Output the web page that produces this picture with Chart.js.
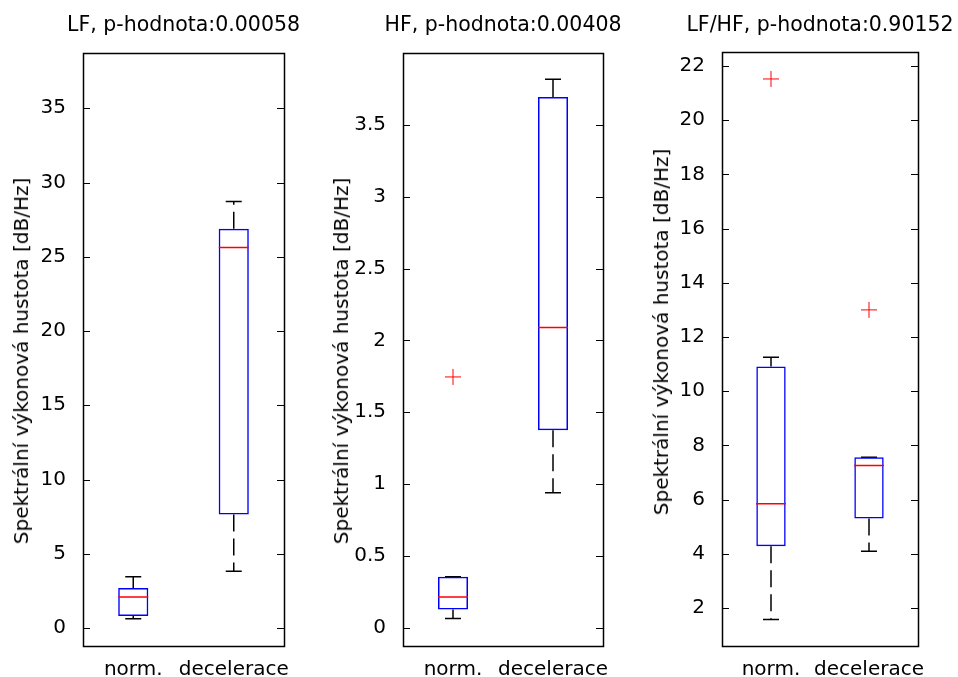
<!DOCTYPE html>
<html>
<head>
<meta charset="utf-8">
<script src="https://cdn.jsdelivr.net/npm/chart.js@4.4.1/dist/chart.umd.min.js"></script>
<style>
  html, body { margin: 0; padding: 0; background: #fff; }
  #wrap { position: relative; width: 958px; height: 677px; overflow: hidden; }
  #wrap canvas { position: absolute; top: 0; }
  .ylab {
    position: absolute;
    font: 20px "DejaVu Sans";
    line-height: 20px;
    white-space: nowrap;
    color: #000;
    transform: translate(-50%, -50%) rotate(-90deg);
  }
</style>
</head>
<body>
<div id="wrap"></div>
<script>
const categories = ['norm.', 'decelerace'];
const titles = ['LF, p-hodnota:0.00058', 'HF, p-hodnota:0.00408', 'LF/HF, p-hodnota:0.90152'];
const yAxisLabel = 'Spektrální výkonová hustota [dB/Hz]';

// LF
const lfLow = [0.63, 3.82];
const lfQ1 = [0.81, 7.65];
const lfMedian = [2.09, 25.62];
const lfQ3 = [2.69, 26.88];
const lfHigh = [3.46, 28.72];
const lfOutliers = [[], []];
const lfTicks = [0, 5, 10, 15, 20, 25, 30, 35];
const lfRange = [-1.21, 38.75];

// HF
const hfLow = [0.064, 0.939];
const hfQ1 = [0.127, 1.375];
const hfMedian = [0.214, 2.09];
const hfQ3 = [0.354, 3.696];
const hfHigh = [0.354, 3.82];
const hfOutliers = [[1.746], []];
const hfTicks = [0, 0.5, 1, 1.5, 2, 2.5, 3, 3.5];
const hfRange = [-0.128, 4.005];

// LF/HF
const ratioLow = [1.58, 4.10];
const ratioQ1 = [4.28, 5.30];
const ratioMedian = [5.85, 7.26];
const ratioQ3 = [10.91, 7.56];
const ratioHigh = [11.25, 7.56];
const ratioOutliers = [[21.52], [13.0]];
const ratioTicks = [2, 4, 6, 8, 10, 12, 14, 16, 18, 20, 22];
const ratioRange = [0.6, 22.53];

// where each panel sits; canvas is symmetric around the plot so the title centres on it
const panels = [
    {left: 0,   axisW: 83, plotW: 201, titleBottom: 15, labelX: 21,  labelY: 361},
    {left: 320, axisW: 83, plotW: 200, titleBottom: 15, labelX: 341, labelY: 361},
    {left: 640, axisW: 82, plotW: 196, titleBottom: 14, labelX: 661, labelY: 332}
];

Chart.defaults.font.family = '"DejaVu Sans"';
Chart.defaults.font.size = 20;
Chart.defaults.color = '#000';

const frameTicks = {
    id: 'frameTicks',
    afterDatasetsDraw(chart) {
        const {ctx, chartArea: a, scales: {y}} = chart;
        ctx.save();
        ctx.strokeStyle = '#000';
        ctx.lineWidth = 1;
        ctx.beginPath();
        y.ticks.forEach(t => {
            const py = Math.round(y.getPixelForValue(t.value)) + 0.5;
            ctx.moveTo(a.left, py); ctx.lineTo(a.left + 7, py);
            ctx.moveTo(a.right, py); ctx.lineTo(a.right - 7, py);
        });
        ctx.stroke();
        ctx.lineWidth = 1.5;
        ctx.strokeRect(Math.round(a.left) + 0.5, Math.round(a.top) + 0.5,
            Math.round(a.right - a.left), Math.round(a.bottom - a.top));
        ctx.restore();
    }
};

function pts(values) {
    return values.map((v, i) => ({x: categories[i], y: v}));
}

function whiskers(from, to) {
    const out = [];
    categories.forEach((c, i) => {
        out.push({x: c, y: from[i]}, {x: c, y: to[i]}, {x: c, y: null});
    });
    return out;
}

function boxChart(idx, low, q1, median, q3, high, outliers, ticks, range) {
    const p = panels[idx];
    const canvas = document.createElement('CANVAS');
    canvas.width = 2 * p.axisW + p.plotW;
    canvas.height = 677;
    canvas.style.left = p.left + 'px';
    document.getElementById('wrap').append(canvas);

    const lab = document.createElement('DIV');
    lab.classList.add('ylab');
    lab.innerText = yAxisLabel;
    lab.style.left = p.labelX + 'px';
    lab.style.top = p.labelY + 'px';
    document.getElementById('wrap').append(lab);

    const outPts = [];
    outliers.forEach((list, i) => list.forEach(v => outPts.push({x: categories[i], y: v})));

    return new Chart(canvas, {
        type: 'bar',
        data: {
            labels: categories,
            datasets: [
                {
                    type: 'line', data: outPts, showLine: false, order: 0,
                    pointStyle: 'cross', pointRadius: 8, pointBorderColor: '#ff0000', pointBorderWidth: 1
                },
                {
                    type: 'line', data: pts(median), showLine: false, order: 1,
                    pointStyle: 'line', pointRadius: 15, pointBorderColor: '#ff0000', pointBorderWidth: 1.5
                },
                {
                    data: q1.map((v, i) => [v, q3[i]]), order: 2,
                    backgroundColor: 'rgba(0,0,0,0)', borderColor: '#0000ff', borderWidth: 1.5,
                    borderSkipped: false, barPercentage: 0.3, categoryPercentage: 1
                },
                {
                    type: 'line', data: pts(high).concat(pts(low)), showLine: false, order: 3,
                    pointStyle: 'line', pointRadius: 8, pointBorderColor: '#000', pointBorderWidth: 1.5
                },
                {
                    type: 'line', data: whiskers(q3, high).concat(whiskers(q1, low)), order: 4,
                    borderColor: '#000', borderWidth: 1.5, borderDash: [17, 7], pointRadius: 0, spanGaps: false
                }
            ]
        },
        options: {
            responsive: false,
            animation: false,
            events: [],
            layout: {padding: 0},
            plugins: {
                legend: {display: false},
                tooltip: {enabled: false},
                title: {
                    display: true, text: titles[idx],
                    color: '#000', font: {size: 20.5, weight: 'normal'},
                    padding: {top: 13, bottom: p.titleBottom}
                }
            },
            scales: {
                x: {
                    type: 'category', offset: true,
                    grid: {display: false}, border: {display: false},
                    ticks: {padding: 4, font: {size: 20}, maxRotation: 0, minRotation: 0, autoSkip: false},
                    afterFit: s => { s.height = 31; }
                },
                y: {
                    type: 'linear', min: range[0], max: range[1],
                    grid: {display: false}, border: {display: false},
                    ticks: {padding: 9, font: {size: 20}, callback: v => String(v)},
                    afterBuildTicks: s => { s.ticks = ticks.map(v => ({value: v})); },
                    afterFit: s => { s.width = p.axisW; }
                },
                // empty axis on the right, only to keep the plot centred under the title
                yRight: {
                    type: 'linear', position: 'right', min: range[0], max: range[1],
                    grid: {display: false}, border: {display: false},
                    ticks: {display: false},
                    afterFit: s => { s.width = p.axisW; }
                }
            }
        },
        plugins: [frameTicks]
    });
}

boxChart(0, lfLow, lfQ1, lfMedian, lfQ3, lfHigh, lfOutliers, lfTicks, lfRange);
boxChart(1, hfLow, hfQ1, hfMedian, hfQ3, hfHigh, hfOutliers, hfTicks, hfRange);
boxChart(2, ratioLow, ratioQ1, ratioMedian, ratioQ3, ratioHigh, ratioOutliers, ratioTicks, ratioRange);
</script>
</body>
</html>
